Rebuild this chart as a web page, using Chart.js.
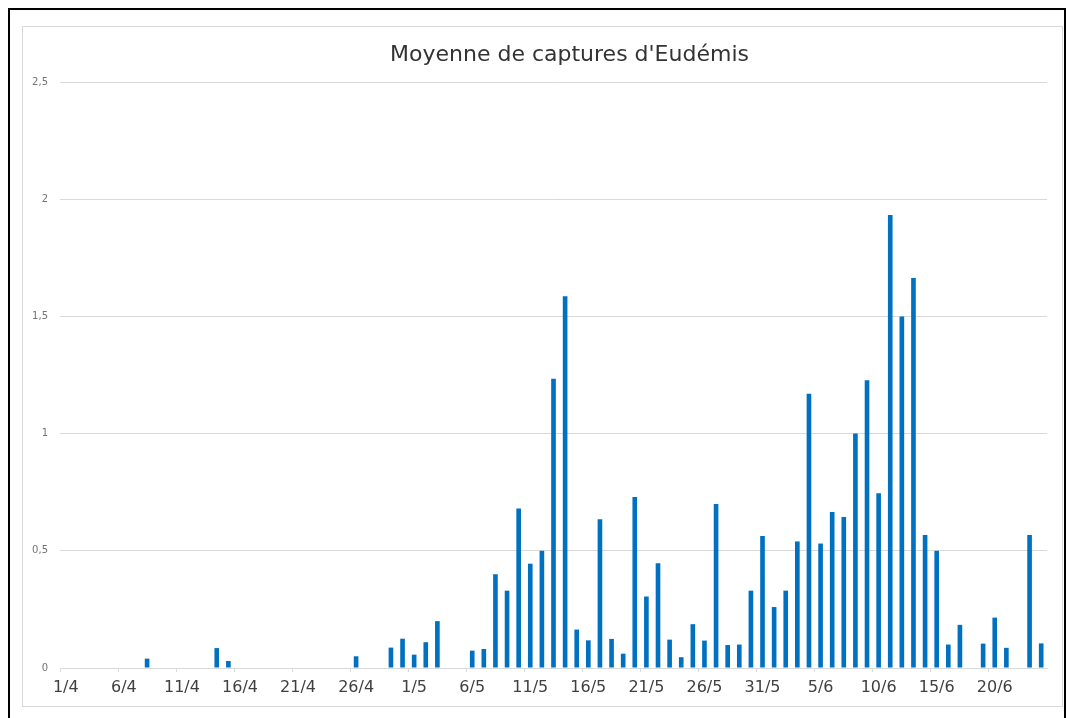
<!DOCTYPE html>
<html>
<head>
<meta charset="utf-8">
<script src="https://cdn.jsdelivr.net/npm/chart.js@4/dist/chart.umd.min.js"></script>
<style>
  html, body { margin: 0; padding: 0; background: #fff; }
  body { width: 1066px; height: 718px; position: relative; overflow: hidden; }
  #outer { position: absolute; left: 8px; top: 8px; width: 1054px; height: 720px;
           border-top: 2px solid #000; border-left: 2px solid #000; border-right: 2px solid #000; }
  #frame { position: absolute; left: 22px; top: 26px; width: 1039px; height: 679px;
           border: 1px solid #d9d9d9; }
  #wrap { position: absolute; left: 0; top: 0; width: 1066px; height: 718px; }
</style>
</head>
<body>
<div id="outer"></div>
<div id="frame"></div>
<div id="wrap"><canvas id="c" width="1066" height="718"></canvas></div>
<script>
const chartTitle = "Moyenne de captures d'Eudémis";

const categories = [
  "1/4","2/4","3/4","4/4","5/4","6/4","7/4","8/4","9/4","10/4",
  "11/4","12/4","13/4","14/4","15/4","16/4","17/4","18/4","19/4","20/4",
  "21/4","22/4","23/4","24/4","25/4","26/4","27/4","28/4","29/4","30/4",
  "1/5","2/5","3/5","4/5","5/5","6/5","7/5","8/5","9/5","10/5",
  "11/5","12/5","13/5","14/5","15/5","16/5","17/5","18/5","19/5","20/5",
  "21/5","22/5","23/5","24/5","25/5","26/5","27/5","28/5","29/5","30/5",
  "31/5","1/6","2/6","3/6","4/6","5/6","6/6","7/6","8/6","9/6",
  "10/6","11/6","12/6","13/6","14/6","15/6","16/6","17/6","18/6","19/6",
  "20/6","21/6","22/6","23/6","24/6"
];

const captures = [
  0, 0, 0, 0, 0, 0, 0, 0.04, 0, 0,
  0, 0, 0, 0.085, 0.03, 0, 0, 0, 0, 0,
  0, 0, 0, 0, 0, 0.05, 0, 0, 0.087, 0.125,
  0.057, 0.11, 0.2, 0, 0, 0.074, 0.081, 0.4, 0.33, 0.68,
  0.445, 0.5, 1.234, 1.586, 0.164, 0.118, 0.635, 0.124, 0.061, 0.73,
  0.305, 0.447, 0.121, 0.046, 0.187, 0.117, 0.7, 0.098, 0.1, 0.33,
  0.563, 0.26, 0.33, 0.54, 1.17, 0.531, 0.665, 0.644, 1.0, 1.228,
  0.745, 1.933, 1.5, 1.664, 0.567, 0.5, 0.1, 0.184, 0, 0.104,
  0.215, 0.086, 0, 0.567, 0.105
];

const yTicks = [0, 0.5, 1, 1.5, 2, 2.5];
const labelEvery = 5;

const titlePlugin = {
  id: 'customTitle',
  afterDraw(chart) {
    const ctx = chart.ctx;
    ctx.save();
    ctx.font = '22px "DejaVu Sans"';
    ctx.fillStyle = '#333333';
    ctx.textAlign = 'center';
    ctx.textBaseline = 'alphabetic';
    const cx = (chart.chartArea.left + chart.chartArea.right) / 2 + 16;
    ctx.fillText(chartTitle, cx, chart.chartArea.top - 21);
    ctx.restore();
  }
};

new Chart(document.getElementById('c'), {
  type: 'bar',
  data: {
    labels: categories,
    datasets: [{
      data: captures,
      backgroundColor: '#0070C0',
      borderWidth: 0,
      barPercentage: 0.4,
      categoryPercentage: 1.0
    }]
  },
  options: {
    responsive: false,
    animation: false,
    devicePixelRatio: 1,
    layout: { padding: { left: 0, right: 19, top: 82, bottom: 0 } },
    plugins: {
      legend: { display: false },
      title: { display: false },
      tooltip: { enabled: false }
    },
    scales: {
      x: {
        type: 'category',
        offset: true,
        afterFit(scale) { scale.height = 50; },
        border: { display: true, color: '#d9d9d9', width: 1 },
        grid: {
          offset: true,
          drawOnChartArea: false,
          drawTicks: true,
          tickLength: 4,
          color: (c) => (c.index % labelEvery === 0 ? '#d9d9d9' : 'rgba(0,0,0,0)')
        },
        ticks: {
          autoSkip: false,
          maxRotation: 0,
          minRotation: 0,
          padding: 6,
          color: '#404040',
          font: { family: '"DejaVu Sans"', size: 16 },
          callback: function(v, i) { return i % labelEvery === 0 ? categories[i] : ''; }
        }
      },
      y: {
        min: 0,
        max: 2.5,
        afterFit(scale) { scale.width = 60; },
        afterBuildTicks(scale) { scale.ticks = yTicks.map(v => ({ value: v })); },
        border: { display: false },
        grid: { color: '#d9d9d9', drawTicks: false, lineWidth: 1 },
        ticks: {
          padding: 12,
          color: '#737373',
          font: { family: '"DejaVu Sans"', size: 10 },
          callback: (v) => String(v).replace('.', ',')
        }
      }
    }
  },
  plugins: [titlePlugin]
});
</script>
</body>
</html>
